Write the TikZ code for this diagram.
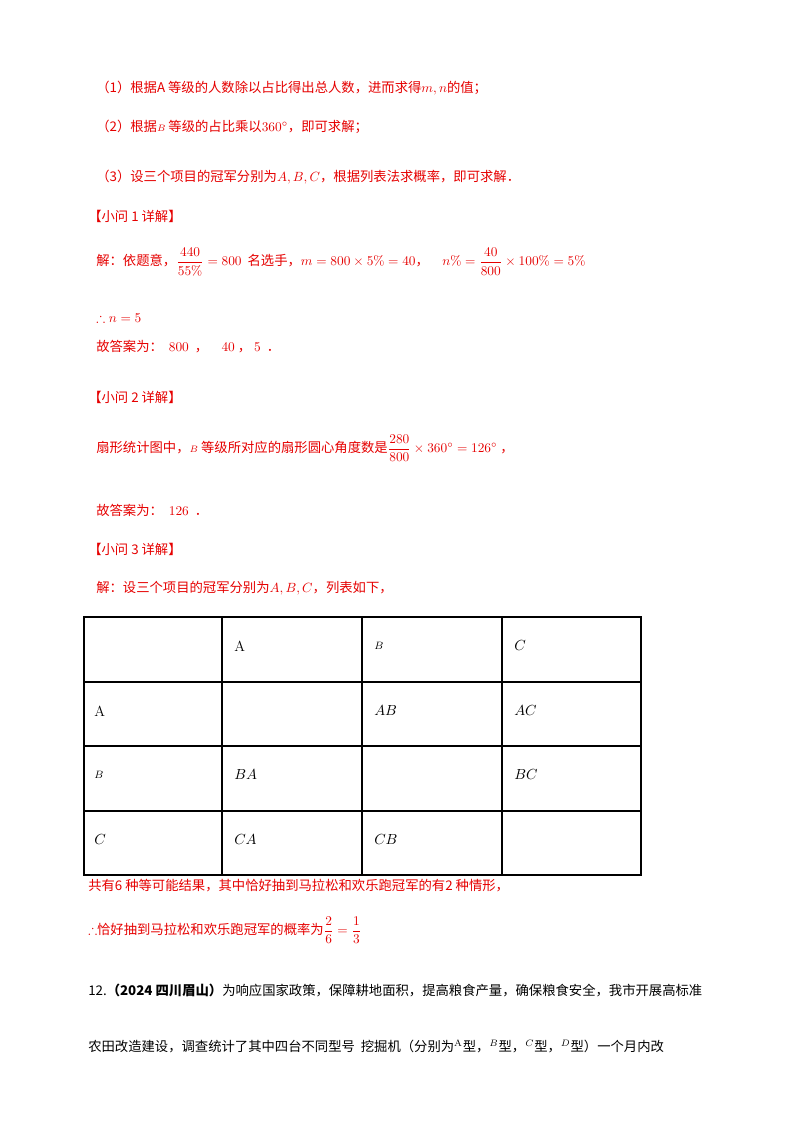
\documentclass[tikz,border=0pt]{standalone}
\usepackage{amsmath,amssymb}
\usepackage{fontspec}
\newfontfamily\cjk{Noto Sans CJK SC}
\definecolor{rd}{RGB}{230,0,0}
\begin{document}
\begin{tikzpicture}[x=0.75pt,y=-0.75pt,
  t/.style={anchor=west,inner sep=0pt,font=\cjk\fontsize{10}{12}\selectfont,text=rd},
  tb/.style={anchor=west,inner sep=0pt,font=\cjk\fontsize{10}{12}\selectfont,text=black},
  cell/.style={anchor=west,inner sep=0pt,font=\fontsize{11}{13}\selectfont}]
\useasboundingbox (0,0) rectangle (800,1132);
\fill[white] (0,0) rectangle (800,1132);
\node[t] (l1) at (96,88) {（1）根据A 等级的人数除以占比得出总人数，进而求得$m,n$的值；};
\node[t] (l2) at (96,127) {（2）根据$\scriptstyle B$ 等级的占比乘以$360^\circ$，即可求解；};
\node[t] (l3) at (96,177) {（3）设三个项目的冠军分别为$A,B,C$，根据列表法求概率，即可求解．};
\node[t] (h1) at (88,216) {【小问 1 详解】};
\node[t] (s1) at (96,262) {解：依题意，$\dfrac{440}{55\%}=800$\ \ 名选手，$m=800\times5\%=40$，\quad $n\%=\dfrac{40}{800}\times100\%=5\%$};
\node[t] (s2) at (96,318) {$\therefore n=5$};
\node[t] (s3) at (96,347) {故答案为：\ \ $800$\ \ ，\quad $40$\ ，\ $5$\ \ ．};
\node[t] (h2) at (88,397) {【小问 2 详解】};
\node[t] (s4) at (96,448) {扇形统计图中，$\scriptstyle B$ 等级所对应的扇形圆心角度数是$\dfrac{280}{800}\times360^\circ=126^\circ$\ ，};
\node[t] (s5) at (96,510) {故答案为：\ \ $126$\ \ ．};
\node[t] (h3) at (88,549) {【小问 3 详解】};
\node[t] (s6) at (96,588) {解：设三个项目的冠军分别为$A,B,C$，列表如下，};
\draw[line width=0.8pt] (84,617) rectangle (641,875);
\foreach \y in {682,746,811} \draw[line width=0.8pt] (84,\y) -- (641,\y);
\foreach \x in {222,362,502} \draw[line width=0.8pt] (\x,617) -- (\x,875);
\node[cell] (c01) at (234,646) {A};
\node[cell] (c02) at (374,646) {$\scriptstyle B$};
\node[cell] (c03) at (514,646) {$C$};
\node[cell] (c10) at (94,711) {A};
\node[cell] (c12) at (374,711) {$AB$};
\node[cell] (c13) at (514,711) {$AC$};
\node[cell] (c20) at (94,775) {$\scriptstyle B$};
\node[cell] (c21) at (234,775) {$BA$};
\node[cell] (c23) at (514,775) {$BC$};
\node[cell] (c30) at (94,839) {$C$};
\node[cell] (c31) at (234,839) {$CA$};
\node[cell] (c32) at (374,839) {$CB$};
\node[t] (s7) at (88,886) {共有6 种等可能结果，其中恰好抽到马拉松和欢乐跑冠军的有2 种情形，};
\node[t] (s8) at (88,930) {$\therefore$恰好抽到马拉松和欢乐跑冠军的概率为$\dfrac{2}{6}=\dfrac{1}{3}$};
\node[tb] (p1) at (88,990) {12.\textbf{（2024 四川眉山）}为响应国家政策，保障耕地面积，提高粮食产量，确保粮食安全，我市开展高标准};
\node[tb] (p2) at (88,1046) {农田改造建设，调查统计了其中四台不同型号\ \ 挖掘机（分别为$^{\rm A}$型，$^{B}$型，$^{C}$型，$^{D}$型）一个月内改};
\end{tikzpicture}
\end{document}
